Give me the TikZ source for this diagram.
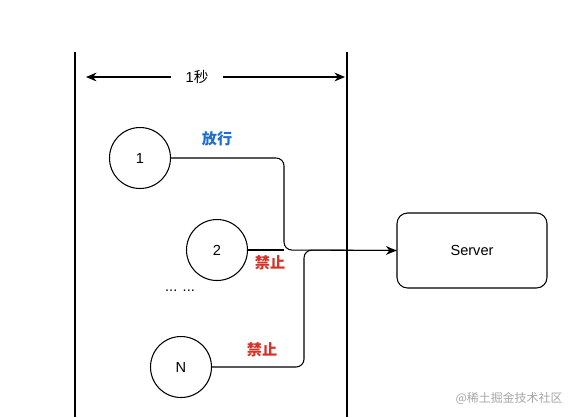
\documentclass[tikz,border=0pt]{standalone}
\usepackage{fontspec}
\setmainfont{Liberation Sans}
\newfontfamily\cjk{Noto Sans CJK SC}
\usetikzlibrary{arrows.meta}

\definecolor{passblue}{RGB}{30,110,210}
\definecolor{denyred}{RGB}{215,50,40}

\begin{document}
\begin{tikzpicture}[x=0.02cm,y=-0.02cm,
  font=\fontsize{8.3}{10}\selectfont,
  client/.style={draw, circle, minimum size=1.22cm, inner sep=0pt, line width=0.6pt},
  flow/.style={line width=0.6pt, rounded corners=4.5pt},
  tag/.style={font=\fontsize{8.6}{10}\cjk\bfseries}]

\useasboundingbox (0,0) rectangle (570,417);

% time window
\draw[line width=0.6pt] (75,52) -- (75,417);
\draw[line width=0.6pt] (347,52) -- (347,417);

\coordinate (winL) at (86,77);
\coordinate (winR) at (345,77);
\node[inner xsep=8pt] (sec) at (197,77) {1{\cjk 秒}};
\draw[line width=0.6pt, -{Stealth[length=6pt,width=5pt]}] (sec.west) -- (winL);
\draw[line width=0.6pt, -{Stealth[length=6pt,width=5pt]}] (sec.east) -- (winR);

% requests
\node[client] (c1) at (140,158) {1};
\node[client] (c2) at (217,250) {2};
\node[client] (cN) at (181,367) {N};
\node (more) at (180,291) {... ...};

% server
\node[draw, rounded corners=6pt, line width=0.6pt, minimum width=3cm,
  minimum height=1.5cm] (srv) at (472,250.5) {Server};

% connectors
\coordinate (bend1) at (284,250);
\coordinate (bendN) at (304,250);
\draw[flow, -{Stealth[length=6pt,width=5pt]}] (c1.east) -| (bend1) -- (srv.west);
\draw[flow] (c2.east) -- (bend1);
\draw[flow] (cN.east) -| (bendN) -- (srv.west);

% labels
\node[tag, text=passblue] (pass) at (217,139) {放行};
\node[tag, text=denyred] (deny2) at (270,263) {禁止};
\node[tag, text=denyred] (denyN) at (262,350) {禁止};

\node[font=\fontsize{6.8}{8}\cjk, text=black!35] (mark) at (509,398) {@稀土掘金技术社区};

\end{tikzpicture}
\end{document}
